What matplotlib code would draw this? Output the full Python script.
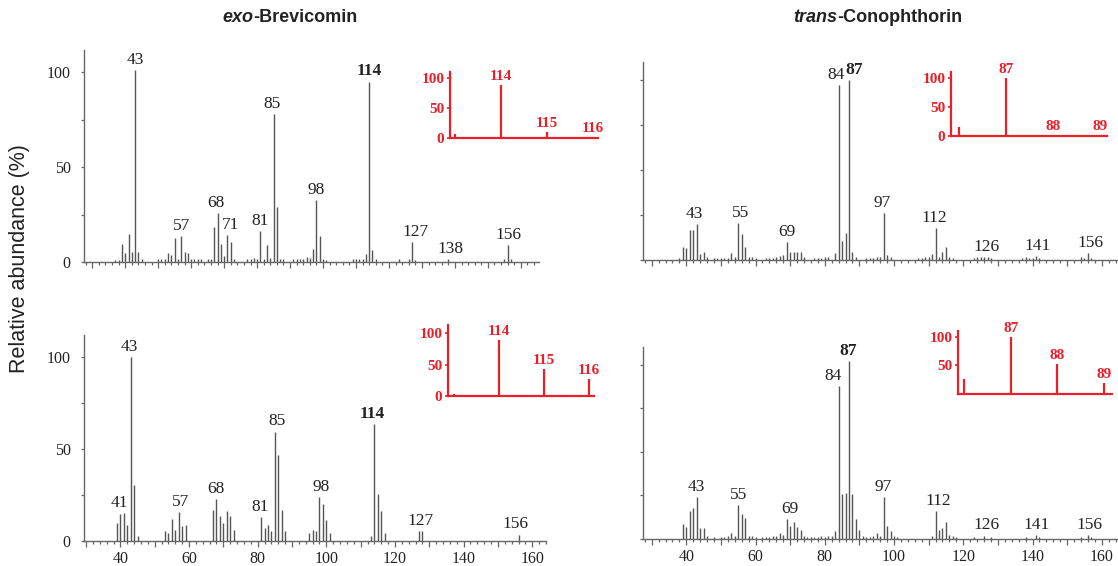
import matplotlib
matplotlib.use("Agg")
import matplotlib.pyplot as plt
from matplotlib.ticker import MultipleLocator, FuncFormatter

# ---- exo-Brevicomin, upper spectrum ----
exo1_mz = [37, 38, 39, 40, 41, 42, 43, 44, 45,
           50, 51, 52, 53, 54, 55, 56, 57, 58, 59, 60, 61, 62, 63,
           65, 66, 67, 68, 69, 70, 71, 72, 73,
           77, 78, 79, 80, 81, 82, 83, 84, 85, 86, 87, 88,
           91, 92, 93, 94, 95, 96, 97, 98, 99, 100, 101,
           109, 110, 111, 112, 113, 114, 115, 116,
           123, 126, 127, 128, 138, 155, 156, 157]
exo1_ab = [1, 1, 9.6, 4.7, 15, 5.3, 101, 5.3, 1.5,
           1.5, 1.5, 1.5, 4.7, 3.9, 12.8, 1.5, 13.5, 5.3, 4.7, 1.5, 1.5, 1.5, 1.5,
           1.5, 1.5, 18.4, 25.8, 9.6, 3, 14.2, 10.4, 1.5,
           1.5, 1.5, 2, 1.5, 16.1, 1.5, 8.8, 2, 77.7, 29, 1.5, 1.5,
           1.5, 1.5, 1.5, 1.5, 2.6, 2, 7, 32.5, 13.5, 1.5, 1,
           1.5, 1.5, 1.5, 1.5, 4.4, 95, 6.1, 1.5,
           1.5, 1.5, 10.5, 1, 1.5, 1.5, 8.8, 1.5]
exo1_labels = [("43", 43, 43), ("57", 57.1, 57), ("68", 67.6, 68), ("71", 72.0, 71),
               ("81", 80.9, 81), ("85", 84.5, 85), ("98", 98, 98), ("114", 114, 114),
               ("127", 128, 127), ("138", 138.6, 138), ("156", 156.2, 156)]

# ---- exo-Brevicomin, lower spectrum ----
exo2_mz = [39, 40, 41, 42, 43, 44, 45,
           53, 54, 55, 56, 57, 58, 59,
           67, 68, 69, 70, 71, 72, 73,
           81, 82, 83, 84, 85, 86, 87, 88,
           95, 96, 97, 98, 99, 100, 101,
           113, 114, 115, 116, 117, 127, 128, 156]
exo2_ab = [9.8, 14.5, 15.3, 8.9, 100, 30.7, 2.9,
           5.5, 4.5, 12.2, 6.2, 15.5, 8, 8.9,
           17.1, 22.7, 13.6, 9.8, 16.2, 13.6, 6.2,
           13.1, 7.1, 8.9, 5.5, 59.5, 46.5, 17.1, 5.5,
           4.5, 6.2, 5.5, 24, 20, 11.3, 4.5,
           2.7, 63.5, 25.8, 16.2, 4.5, 5.5, 5.5, 3.5]
exo2_labels = [("41", 39.8, 41), ("43", 42.5, 43), ("57", 57.4, 57), ("68", 67.9, 68),
               ("81", 80.8, 81), ("85", 85.5, 85), ("98", 98.5, 98), ("114", 113.5, 114),
               ("127", 127.4, 127), ("156", 155.2, 156)]

# ---- trans-Conophthorin, upper spectrum ----
con1_mz = [38, 39, 40, 41, 42, 43, 44, 45, 46,
           48, 49, 50, 51, 52, 53, 54, 55, 56, 57, 58, 59, 60,
           63, 64, 65, 66, 67, 68, 69, 70, 71, 72, 73, 74,
           77, 78, 79, 80, 81, 83, 84, 85, 86, 87, 88, 89,
           92, 93, 94, 95, 96, 97, 98, 99,
           107, 108, 109, 110, 111, 112, 113, 114, 115, 116, 117,
           123, 124, 125, 126, 127, 128,
           137, 138, 139, 140, 141, 142,
           154, 155, 156, 157]
con1_ab = [1.3, 7.4, 6.5, 16.7, 16.7, 19.8, 3.1, 4.3, 1.5,
           1, 1, 1.2, 1, 1.3, 3.7, 1.5, 20.7, 14.3, 7.4, 1.5, 1.5, 1.2,
           1, 1.2, 1.2, 1.5, 2, 2.8, 10, 4.3, 4.3, 4.3, 4.3, 1.5,
           1.2, 1.2, 1.2, 1.5, 1.5, 3.7, 97, 10.7, 14.8, 100, 4.3, 1.5,
           1.2, 1.2, 1.2, 1.5, 1.5, 26.3, 2.8, 1.5,
           1.2, 1.2, 1.5, 1.5, 3.1, 18, 1.5, 4.3, 7.4, 1.5, 1,
           1, 1.5, 1.5, 1.8, 1.5, 1.2,
           1, 1.5, 1.2, 1.2, 2, 1.2,
           1.5, 1.2, 4, 1]
con1_labels = [("43", 42.2, 43), ("55", 55.8, 55), ("69", 69.1, 69), ("84", 83.3, 84),
               ("87", 88.5, 87), ("97", 96.7, 97), ("112", 111.6, 112), ("126", 126.7, 126),
               ("141", 141.4, 141), ("156", 156.6, 156)]

# ---- trans-Conophthorin, lower spectrum ----
con2_mz = [39, 40, 41, 42, 43, 44, 45, 46,
           48, 50, 51, 52, 53, 54, 55, 56, 57, 58, 59, 60,
           62, 63, 64, 65, 66, 67, 68, 69, 70, 71, 72, 73, 74,
           75, 76, 77, 78, 79, 80, 81, 82, 83, 84, 85, 86, 87, 88, 89, 90, 91,
           92, 93, 94, 95, 96, 97, 98, 99, 100, 101,
           111, 112, 113, 114, 115, 116, 117, 118,
           123, 126, 128, 138, 141, 142, 154, 156, 157]
con2_ab = [8.7, 6.8, 16, 17.8, 24.1, 6.2, 6.2, 1.5,
           1, 1.2, 1.2, 1.5, 3.5, 1.5, 19.7, 14.1, 11.8, 2, 1.5, 1,
           1, 1, 1.2, 1.5, 1.5, 3.5, 2.5, 11.6, 7.7, 9.7, 6.9, 5.4, 2,
           1.2, 1, 1.2, 1, 1.5, 1.2, 1.5, 1.5, 4.4, 88, 25.7, 26.6, 102, 25.7, 11.6, 5.4, 2,
           1.2, 1.2, 1.5, 3.5, 2, 24.1, 7.7, 4.4, 2, 1,
           2, 16, 5.4, 6.4, 9.7, 2.5, 1.5, 1,
           1, 2, 1, 1, 2.5, 1, 1, 2.5, 1]
con2_labels = [("43", 42.8, 43), ("55", 55, 55), ("69", 69.9, 69), ("84", 82.3, 84),
               ("87", 86.8, 87), ("97", 96.8, 97), ("112", 112.8, 112), ("126", 126.7, 126),
               ("141", 141.2, 141), ("156", 156.4, 156)]

# ---- molecular-ion clusters (red insets) ----
ins_exo1_mz, ins_exo1_ab = [113, 114, 115, 116], [6, 88, 10, 1.5]
ins_exo2_mz, ins_exo2_ab = [113, 114, 115, 116], [3, 89, 43, 27]
ins_con1_mz, ins_con1_ab = [86, 87, 88, 89], [15, 100, 2, 0.8]
ins_con2_mz, ins_con2_ab = [86, 87, 88, 89], [26, 100, 52, 19]

W, H = 1118, 566
BAR = "#555555"
AXIS = "#666666"
TXT = "#222222"
RED = "#e8202a"
SERIF = ["Liberation Serif", "DejaVu Serif"]
SANS = ["Liberation Sans", "DejaVu Sans"]
BOLD_PEAKS = {"114", "87"}

fig = plt.figure(figsize=(W / 100, H / 100), dpi=100)


def px_axes(left, top, right, bottom):
    return fig.add_axes([left / W, 1 - bottom / H, (right - left) / W, (bottom - top) / H])


def spectrum(box, mz, ab, labels, xlim, ytop, xlabels, ylabels):
    ax = px_axes(*box)
    ax.vlines(mz, 0, ab, color=BAR, lw=1.0)
    ax.set_xlim(*xlim)
    ax.set_ylim(0, ytop)
    ax.patch.set_visible(False)
    for s in ("top", "right"):
        ax.spines[s].set_visible(False)
    for s in ("left", "bottom"):
        ax.spines[s].set_color(AXIS)
        ax.spines[s].set_linewidth(1.0)
    ax.xaxis.set_major_locator(MultipleLocator(10))
    ax.xaxis.set_minor_locator(MultipleLocator(2))
    ax.xaxis.set_major_formatter(FuncFormatter(lambda v, p: f"{v:.0f}" if v % 20 == 0 else ""))
    ax.yaxis.set_major_locator(MultipleLocator(50))
    ax.yaxis.set_minor_locator(MultipleLocator(25))
    ax.tick_params(axis="x", which="major", length=4.5, width=0.9, color=AXIS, pad=3,
                   labelbottom=xlabels)
    ax.tick_params(axis="x", which="minor", length=2.2, width=0.9, color=AXIS)
    ax.tick_params(axis="y", which="both", length=2.5, width=0.9, color=AXIS, pad=7,
                   labelleft=ylabels)
    for t in ax.get_xticklabels() + ax.get_yticklabels():
        t.set_fontfamily(SERIF)
        t.set_fontsize(11.5)
        t.set_color(TXT)
    heights = dict(zip(mz, ab))
    for text, x, m in labels:
        ax.annotate(text, xy=(x, heights[m]), xytext=(0, 1.5), textcoords="offset points",
                    ha="center", va="bottom", fontsize=12.5, family=SERIF, color=TXT,
                    fontweight="bold" if text in BOLD_PEAKS else "normal")
    return ax


def inset(box, mz, ab, xlim, ytop, yticks):
    ax = px_axes(*box)
    ax.vlines(mz, 0, ab, color=RED, lw=1.6)
    ax.set_xlim(*xlim)
    ax.set_ylim(0, ytop)
    ax.patch.set_visible(False)
    for s in ("top", "right"):
        ax.spines[s].set_visible(False)
    for s in ("left", "bottom"):
        ax.spines[s].set_color(RED)
        ax.spines[s].set_linewidth(1.6)
    ax.set_xticks([])
    ax.set_yticks(yticks)
    ax.tick_params(axis="y", length=2, width=1.2, color=RED, pad=2)
    for t in ax.get_yticklabels():
        t.set_fontfamily(SERIF)
        t.set_fontweight("bold")
        t.set_fontsize(11)
        t.set_color(RED)
    for m, h in zip(mz[1:], ab[1:]):
        ax.annotate(str(m), xy=(m, h), xytext=(0, 1.5), textcoords="offset points",
                    ha="center", va="bottom", fontsize=11, family=SERIF,
                    fontweight="bold", color=RED)
    return ax


spectrum((84, 50, 539, 262), exo1_mz, exo1_ab, exo1_labels, (27.5, 165.5), 111.6, False, True)
spectrum((84, 335, 546, 541), exo2_mz, exo2_ab, exo2_labels, (29.4, 164), 112, True, True)
spectrum((643, 62, 1117, 260), con1_mz, con1_ab, con1_labels, (27.5, 164.4), 110, False, False)
spectrum((643, 347, 1117, 539), con2_mz, con2_ab, con2_labels, (27.5, 164.4), 110.3, True, False)

inset((450, 72, 598, 138), ins_exo1_mz, ins_exo1_ab, (112.9, 116.12), 110, [0, 50, 100])
inset((448, 325, 594, 396), ins_exo2_mz, ins_exo2_ab, (112.87, 116.12), 112.7, [0, 50, 100])
inset((951, 72, 1107, 136), ins_con1_mz, ins_con1_ab, (85.83, 89.15), 110, [0, 50, 100])
inset((958, 331, 1112, 394), ins_con2_mz, ins_con2_ab, (85.87, 89.17), 110.5, [50, 100])

fig.text(20 / W, 1 - 259 / H, "Relative abundance (%)", rotation=90, ha="center", va="center",
         fontsize=15.5, family=SANS, color=TXT)


def title(cx, cy, ital, rest):
    a = fig.text(0, 1 - cy / H, ital, ha="left", va="center", fontsize=13, family=SANS,
                 fontweight="bold", fontstyle="italic", color=TXT)
    b = fig.text(0, 1 - cy / H, rest, ha="left", va="center", fontsize=13, family=SANS,
                 fontweight="bold", color=TXT)
    r = fig.canvas.get_renderer()
    wa = a.get_window_extent(r).width
    wb = b.get_window_extent(r).width
    x0 = cx - (wa + wb) / 2
    a.set_x(x0 / W)
    b.set_x((x0 + wa) / W)


title(290, 18, "exo", "-Brevicomin")
title(878, 18, "trans", "-Conophthorin")

fig.savefig("out.png", dpi=100)
